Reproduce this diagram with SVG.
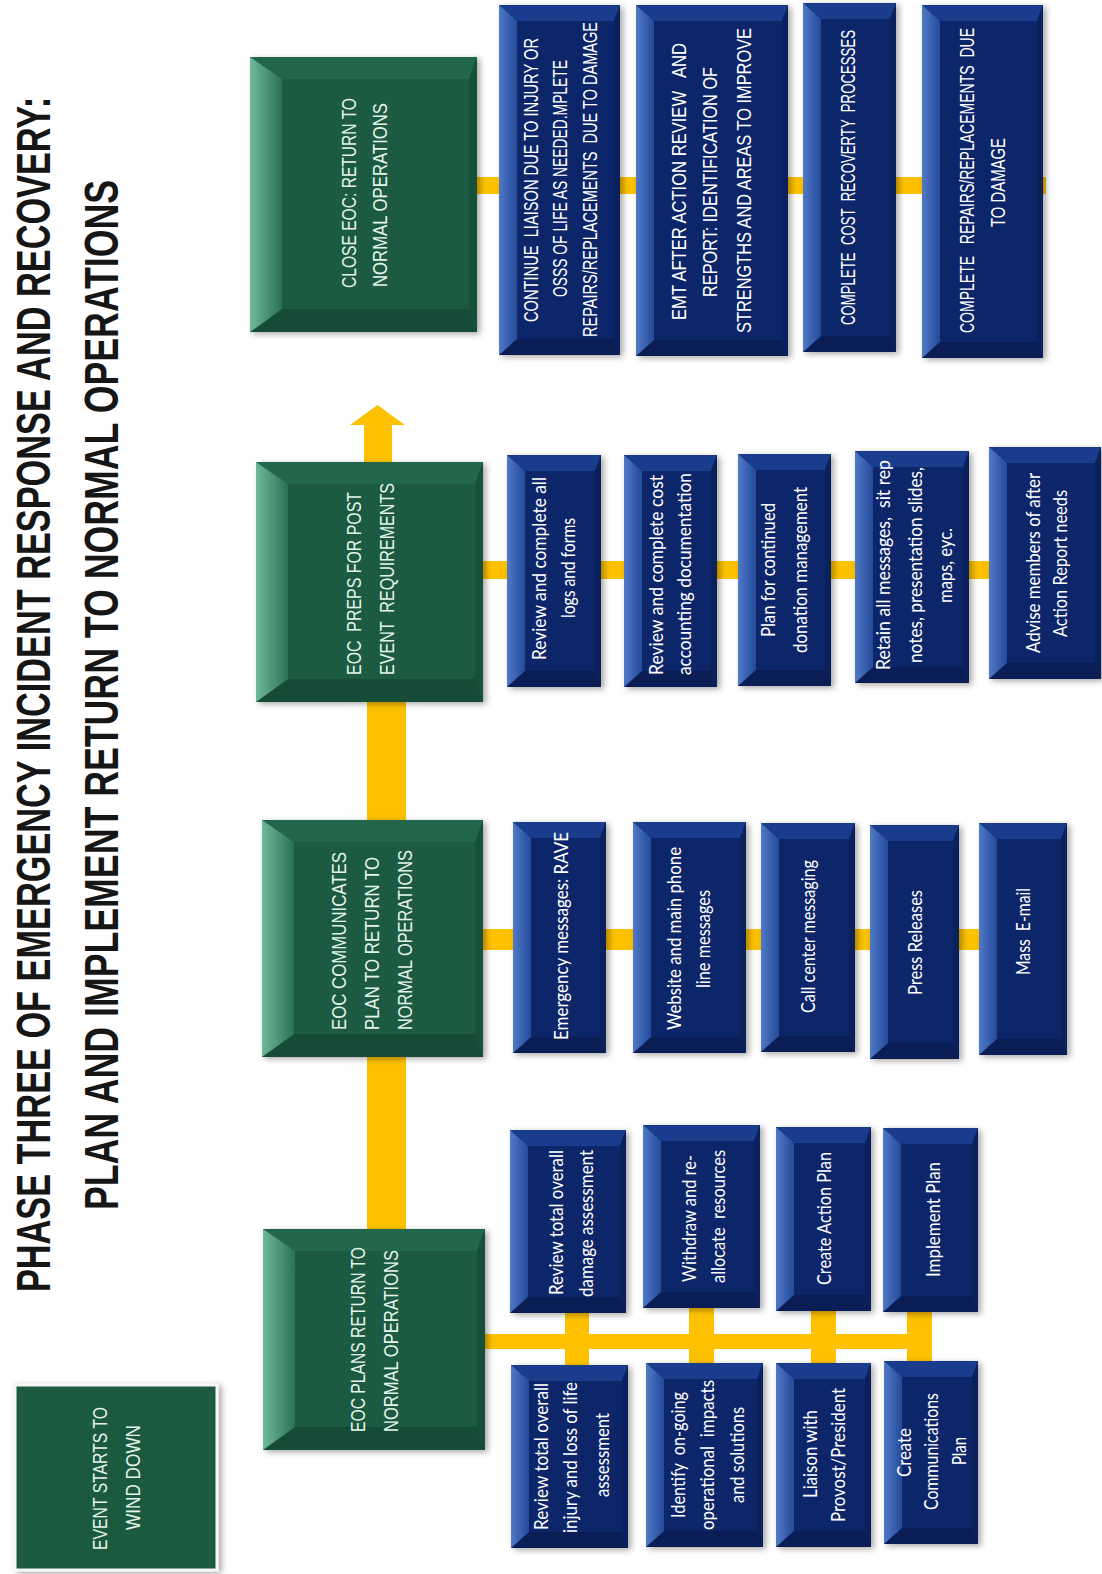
<svg xmlns="http://www.w3.org/2000/svg" width="1102" height="1574" viewBox="0 0 1102 1574">
<defs>
<linearGradient id="gLg" x1="0" y1="0" x2="1" y2="0"><stop offset="0" stop-color="#6fb898"/><stop offset="1" stop-color="#2a7255"/></linearGradient>
<linearGradient id="bLg" x1="0" y1="0" x2="1" y2="0"><stop offset="0" stop-color="#5079c6"/><stop offset="1" stop-color="#244a9a"/></linearGradient>
<filter id="sh" x="-10%" y="-10%" width="125%" height="125%"><feDropShadow dx="3" dy="2" stdDeviation="3" flood-color="#000" flood-opacity="0.35"/></filter>
<style>
.gB{fill:#1c5a42;filter:url(#sh)} .gL{fill:url(#gLg)} .gT{fill:#22674c} .gD{fill:#164c37} .gR{fill:#17503a}
.bB{fill:#0d276b;filter:url(#sh)} .bL{fill:url(#bLg)} .bT{fill:#1a3c8c} .bD{fill:#0a1d55} .bR{fill:#0b215c}
.y{fill:#fdc100}
text{text-anchor:middle;dominant-baseline:central;white-space:pre}
.t0{font-family:"Liberation Sans Narrow","Liberation Sans",Arial,sans-serif;font-weight:bold;font-size:49px;fill:#161616}
.t1{font-family:"Liberation Sans Narrow","Liberation Sans",Arial,sans-serif;font-size:21px;fill:#e2f4ea}
.t2{font-family:"Liberation Sans Narrow","Liberation Sans",Arial,sans-serif;font-size:21px;fill:#ffffff}
.t3{font-family:Lato,"Liberation Sans",Arial,sans-serif;font-size:19px;fill:#ffffff}
</style>
</defs>
<rect width="1102" height="1574" fill="#ffffff"/>

<g id="title">
<text class="t0" transform="translate(32.5,694.5) rotate(-90) scale(0.66,1)" textLength="1811" lengthAdjust="spacingAndGlyphs">PHASE THREE OF EMERGENCY INCIDENT RESPONSE AND RECOVERY:</text>
<text class="t0" transform="translate(100.5,695) rotate(-90) scale(0.66,1)" textLength="1561" lengthAdjust="spacingAndGlyphs">PLAN AND IMPLEMENT RETURN TO NORMAL OPERATIONS</text>
</g>

<g id="connectors">
<rect class="y" x="367" y="698" width="39" height="534"/>
<polygon class="y" points="364,464 364,425 350,425 377.5,405 405,425 392,425 392,464"/>
<rect class="y" x="475" y="177" width="571" height="17"/>
<rect class="y" x="480" y="561" width="512" height="18"/>
<rect class="y" x="480" y="929" width="502" height="21"/>
<rect class="y" x="482" y="1334" width="450" height="15"/>
<rect class="y" x="565" y="1300" width="24" height="75"/>
<rect class="y" x="689" y="1300" width="25" height="75"/>
<rect class="y" x="811" y="1300" width="25" height="75"/>
<rect class="y" x="907" y="1300" width="25" height="75"/>
</g>

<g id="n-event-starts">
<rect x="15" y="1385" width="202" height="185" fill="#1b5a41" stroke="#f6f6f6" stroke-width="3" filter="url(#sh)"/>
<text class="t1" transform="translate(100,1478.5) rotate(-90) scale(0.71,1)" textLength="201.4" lengthAdjust="spacingAndGlyphs">EVENT STARTS TO</text>
<text class="t1" transform="translate(133.5,1477.5) rotate(-90) scale(0.71,1)" textLength="147.9" lengthAdjust="spacingAndGlyphs">WIND DOWN</text>
</g>

<g id="n-eoc-plans">
<rect class="gB" x="263" y="1229" width="222" height="221"/>
<polygon class="gT" points="263,1229 485,1229 477,1251 295,1251"/>
<polygon class="gD" points="263,1450 295,1427 477,1427 485,1450"/>
<polygon class="gR" points="485,1229 485,1450 477,1427 477,1251"/>
<polygon class="gL" points="263,1229 295,1251 295,1427 263,1450"/>
<text class="t1" transform="translate(358.5,1339.5) rotate(-90) scale(0.71,1)" textLength="260.6" lengthAdjust="spacingAndGlyphs">EOC PLANS RETURN TO</text>
<text class="t1" transform="translate(391,1341) rotate(-90) scale(0.71,1)" textLength="256.3" lengthAdjust="spacingAndGlyphs">NORMAL OPERATIONS</text>
</g>

<g id="n-eoc-communicates">
<rect class="gB" x="262" y="820" width="221" height="237"/>
<polygon class="gT" points="262,820 483,820 475,842 294,842"/>
<polygon class="gD" points="262,1057 294,1034 475,1034 483,1057"/>
<polygon class="gR" points="483,820 483,1057 475,1034 475,842"/>
<polygon class="gL" points="262,820 294,842 294,1034 262,1057"/>
<text class="t1" transform="translate(339.5,941) rotate(-90) scale(0.71,1)" textLength="250.7" lengthAdjust="spacingAndGlyphs">EOC COMMUNICATES</text>
<text class="t1" transform="translate(372.5,943.5) rotate(-90) scale(0.71,1)" textLength="243.7" lengthAdjust="spacingAndGlyphs">PLAN TO RETURN TO</text>
<text class="t1" transform="translate(405,940) rotate(-90) scale(0.71,1)" textLength="253.5" lengthAdjust="spacingAndGlyphs">NORMAL OPERATIONS</text>
</g>

<g id="n-eoc-preps">
<rect class="gB" x="256" y="462" width="227" height="240"/>
<polygon class="gT" points="256,462 483,462 475,484 288,484"/>
<polygon class="gD" points="256,702 288,679 475,679 483,702"/>
<polygon class="gR" points="483,462 483,702 475,679 475,484"/>
<polygon class="gL" points="256,462 288,484 288,679 256,702"/>
<text class="t1" transform="translate(354.5,583.5) rotate(-90) scale(0.71,1)" textLength="257.7" lengthAdjust="spacingAndGlyphs">EOC  PREPS FOR POST</text>
<text class="t1" transform="translate(387,579) rotate(-90) scale(0.71,1)" textLength="270.4" lengthAdjust="spacingAndGlyphs">EVENT  REQUIREMENTS</text>
</g>

<g id="n-close-eoc">
<rect class="gB" x="250" y="57" width="227" height="275"/>
<polygon class="gT" points="250,57 477,57 469,79 282,79"/>
<polygon class="gD" points="250,332 282,309 469,309 477,332"/>
<polygon class="gR" points="477,57 477,332 469,309 469,79"/>
<polygon class="gL" points="250,57 282,79 282,309 250,332"/>
<text class="t1" transform="translate(349.5,193) rotate(-90) scale(0.71,1)" textLength="267.6" lengthAdjust="spacingAndGlyphs">CLOSE EOC: RETURN TO</text>
<text class="t1" transform="translate(380.5,195) rotate(-90) scale(0.71,1)" textLength="259.2" lengthAdjust="spacingAndGlyphs">NORMAL OPERATIONS</text>
</g>

<!-- Column 4 blue boxes -->
<g id="n-continue-liaison">
<rect class="bB" x="499" y="5" width="121" height="350"/>
<polygon class="bT" points="499,5 620,5 614,21 517,21"/>
<polygon class="bD" points="499,355 517,339 614,339 620,355"/>
<polygon class="bR" points="620,5 620,355 614,339 614,21"/>
<polygon class="bL" points="499,5 517,21 517,339 499,355"/>
<text class="t2" transform="translate(531,180) rotate(-90) scale(0.71,1)" textLength="400" lengthAdjust="spacingAndGlyphs">CONTINUE  LIAISON DUE TO INJURY OR</text>
<text class="t2" transform="translate(560,178.5) rotate(-90) scale(0.71,1)" textLength="333.8" lengthAdjust="spacingAndGlyphs">OSSS OF LIFE AS NEEDED.MPLETE</text>
<text class="t2" transform="translate(590,179.5) rotate(-90) scale(0.71,1)" textLength="443.7" lengthAdjust="spacingAndGlyphs">REPAIRS/REPLACEMENTS  DUE TO DAMAGE</text>
</g>
<g id="n-emt-review">
<rect class="bB" x="636" y="5" width="152" height="351"/>
<polygon class="bT" points="636,5 788,5 782,21 654,21"/>
<polygon class="bD" points="636,356 654,340 782,340 788,356"/>
<polygon class="bR" points="788,5 788,356 782,340 782,21"/>
<polygon class="bL" points="636,5 654,21 654,340 636,356"/>
<text class="t2" transform="translate(679,181.5) rotate(-90) scale(0.71,1)" textLength="390.1" lengthAdjust="spacingAndGlyphs">EMT AFTER ACTION REVIEW   AND</text>
<text class="t2" transform="translate(710,182) rotate(-90) scale(0.71,1)" textLength="323.9" lengthAdjust="spacingAndGlyphs">REPORT: IDENTIFICATION OF</text>
<text class="t2" transform="translate(744,180.5) rotate(-90) scale(0.71,1)" textLength="429.6" lengthAdjust="spacingAndGlyphs">STRENGTHS AND AREAS TO IMPROVE</text>
</g>
<g id="n-cost-recovery">
<rect class="bB" x="803" y="3" width="93" height="349"/>
<polygon class="bT" points="803,3 896,3 890,19 821,19"/>
<polygon class="bD" points="803,352 821,336 890,336 896,352"/>
<polygon class="bR" points="896,3 896,352 890,336 890,19"/>
<polygon class="bL" points="803,3 821,19 821,336 803,352"/>
<text class="t2" transform="translate(848,177.5) rotate(-90) scale(0.62,1)" textLength="475.8" lengthAdjust="spacingAndGlyphs">COMPLETE  COST  RECOVERTY  PROCESSES</text>
</g>
<g id="n-complete-repairs">
<rect class="bB" x="922" y="5" width="121" height="353"/>
<polygon class="bT" points="922,5 1043,5 1037,21 940,21"/>
<polygon class="bD" points="922,358 940,342 1037,342 1043,358"/>
<polygon class="bR" points="1043,5 1043,358 1037,342 1037,21"/>
<polygon class="bL" points="922,5 940,21 940,342 922,358"/>
<text class="t2" transform="translate(967,180.5) rotate(-90) scale(0.71,1)" textLength="429.6" lengthAdjust="spacingAndGlyphs">COMPLETE   REPAIRS/REPLACEMENTS  DUE</text>
<text class="t2" transform="translate(998,182.5) rotate(-90) scale(0.71,1)" textLength="125.4" lengthAdjust="spacingAndGlyphs">TO DAMAGE</text>
</g>

<!-- Column 3 blue boxes -->
<g id="n-review-logs">
<rect class="bB" x="507" y="455" width="94" height="232"/>
<polygon class="bT" points="507,455 601,455 595,471 525,471"/>
<polygon class="bD" points="507,687 525,671 595,671 601,687"/>
<polygon class="bR" points="601,455 601,687 595,671 595,471"/>
<polygon class="bL" points="507,455 525,471 525,671 507,687"/>
<text class="t3" transform="translate(538,568.5) rotate(-90)" textLength="183" lengthAdjust="spacingAndGlyphs">Review and complete all</text>
<text class="t3" transform="translate(567,568) rotate(-90)" textLength="100" lengthAdjust="spacingAndGlyphs">logs and forms</text>
</g>
<g id="n-review-cost">
<rect class="bB" x="624" y="455" width="93" height="232"/>
<polygon class="bT" points="624,455 717,455 711,471 642,471"/>
<polygon class="bD" points="624,687 642,671 711,671 717,687"/>
<polygon class="bR" points="717,455 717,687 711,671 711,471"/>
<polygon class="bL" points="624,455 642,471 642,671 624,687"/>
<text class="t3" transform="translate(655,575) rotate(-90)" textLength="200" lengthAdjust="spacingAndGlyphs">Review and complete cost</text>
<text class="t3" transform="translate(683,574) rotate(-90)" textLength="202" lengthAdjust="spacingAndGlyphs">accounting documentation</text>
</g>
<g id="n-donation">
<rect class="bB" x="738" y="454" width="93" height="232"/>
<polygon class="bT" points="738,454 831,454 825,470 756,470"/>
<polygon class="bD" points="738,686 756,670 825,670 831,686"/>
<polygon class="bR" points="831,454 831,686 825,670 825,470"/>
<polygon class="bL" points="738,454 756,470 756,670 738,686"/>
<text class="t3" transform="translate(767,570) rotate(-90)" textLength="134" lengthAdjust="spacingAndGlyphs">Plan for continued</text>
<text class="t3" transform="translate(799,570) rotate(-90)" textLength="166" lengthAdjust="spacingAndGlyphs">donation management</text>
</g>
<g id="n-retain-messages">
<rect class="bB" x="855" y="451" width="114" height="232"/>
<polygon class="bT" points="855,451 969,451 963,467 873,467"/>
<polygon class="bD" points="855,683 873,667 963,667 969,683"/>
<polygon class="bR" points="969,451 969,683 963,667 963,467"/>
<polygon class="bL" points="855,451 873,467 873,667 855,683"/>
<text class="t3" transform="translate(882,565) rotate(-90)" textLength="210" lengthAdjust="spacingAndGlyphs">Retain all messages,  sit rep</text>
<text class="t3" transform="translate(914,565) rotate(-90)" textLength="196" lengthAdjust="spacingAndGlyphs">notes, presentation slides,</text>
<text class="t3" transform="translate(944,565.5) rotate(-90)" textLength="75" lengthAdjust="spacingAndGlyphs">maps, eyc.</text>
</g>
<g id="n-advise-members">
<rect class="bB" x="989" y="447" width="112" height="232"/>
<polygon class="bT" points="989,447 1101,447 1095,463 1007,463"/>
<polygon class="bD" points="989,679 1007,663 1095,663 1101,679"/>
<polygon class="bR" points="1101,447 1101,679 1095,663 1095,463"/>
<polygon class="bL" points="989,447 1007,463 1007,663 989,679"/>
<text class="t3" transform="translate(1032,563) rotate(-90)" textLength="180" lengthAdjust="spacingAndGlyphs">Advise members of after</text>
<text class="t3" transform="translate(1059,563.5) rotate(-90)" textLength="147" lengthAdjust="spacingAndGlyphs">Action Report needs</text>
</g>

<!-- Column 2 blue boxes -->
<g id="n-emergency-messages">
<rect class="bB" x="513" y="822" width="93" height="231"/>
<polygon class="bT" points="513,822 606,822 600,838 531,838"/>
<polygon class="bD" points="513,1053 531,1037 600,1037 606,1053"/>
<polygon class="bR" points="606,822 606,1053 600,1037 600,838"/>
<polygon class="bL" points="513,822 531,838 531,1037 513,1053"/>
<text class="t3" transform="translate(560,936) rotate(-90)" textLength="208" lengthAdjust="spacingAndGlyphs">Emergency messages: RAVE</text>
</g>
<g id="n-website">
<rect class="bB" x="633" y="822" width="113" height="231"/>
<polygon class="bT" points="633,822 746,822 740,838 651,838"/>
<polygon class="bD" points="633,1053 651,1037 740,1037 746,1053"/>
<polygon class="bR" points="746,822 746,1053 740,1037 740,838"/>
<polygon class="bL" points="633,822 651,838 651,1037 633,1053"/>
<text class="t3" transform="translate(673,938.5) rotate(-90)" textLength="183" lengthAdjust="spacingAndGlyphs">Website and main phone</text>
<text class="t3" transform="translate(702,939) rotate(-90)" textLength="98" lengthAdjust="spacingAndGlyphs">line messages</text>
</g>
<g id="n-call-center">
<rect class="bB" x="761" y="823" width="94" height="229"/>
<polygon class="bT" points="761,823 855,823 849,839 779,839"/>
<polygon class="bD" points="761,1052 779,1036 849,1036 855,1052"/>
<polygon class="bR" points="855,823 855,1052 849,1036 849,839"/>
<polygon class="bL" points="761,823 779,839 779,1036 761,1052"/>
<text class="t3" transform="translate(807,936.5) rotate(-90)" textLength="153" lengthAdjust="spacingAndGlyphs">Call center messaging</text>
</g>
<g id="n-press-releases">
<rect class="bB" x="870" y="825" width="89" height="234"/>
<polygon class="bT" points="870,825 959,825 953,841 888,841"/>
<polygon class="bD" points="870,1059 888,1043 953,1043 959,1059"/>
<polygon class="bR" points="959,825 959,1059 953,1043 953,841"/>
<polygon class="bL" points="870,825 888,841 888,1043 870,1059"/>
<text class="t3" transform="translate(914,942.5) rotate(-90)" textLength="105" lengthAdjust="spacingAndGlyphs">Press Releases</text>
</g>
<g id="n-mass-email">
<rect class="bB" x="979" y="823" width="88" height="232"/>
<polygon class="bT" points="979,823 1067,823 1061,839 997,839"/>
<polygon class="bD" points="979,1055 997,1039 1061,1039 1067,1055"/>
<polygon class="bR" points="1067,823 1067,1055 1061,1039 1061,839"/>
<polygon class="bL" points="979,823 997,839 997,1039 979,1055"/>
<text class="t3" transform="translate(1022,931.5) rotate(-90)" textLength="87" lengthAdjust="spacingAndGlyphs">Mass  E-mail</text>
</g>

<!-- Column 1 blue boxes -->
<g id="n-review-damage">
<rect class="bB" x="510" y="1130" width="116" height="183"/>
<polygon class="bT" points="510,1130 626,1130 620,1146 528,1146"/>
<polygon class="bD" points="510,1313 528,1297 620,1297 626,1313"/>
<polygon class="bR" points="626,1130 626,1313 620,1297 620,1146"/>
<polygon class="bL" points="510,1130 528,1146 528,1297 510,1313"/>
<text class="t3" transform="translate(555,1222.5) rotate(-90)" textLength="145" lengthAdjust="spacingAndGlyphs">Review total overall</text>
<text class="t3" transform="translate(585,1223.5) rotate(-90)" textLength="147" lengthAdjust="spacingAndGlyphs">damage assessment</text>
</g>
<g id="n-withdraw">
<rect class="bB" x="643" y="1125" width="117" height="183"/>
<polygon class="bT" points="643,1125 760,1125 754,1141 661,1141"/>
<polygon class="bD" points="643,1308 661,1292 754,1292 760,1308"/>
<polygon class="bR" points="760,1125 760,1308 754,1292 754,1141"/>
<polygon class="bL" points="643,1125 661,1141 661,1292 643,1308"/>
<text class="t3" transform="translate(688,1218.5) rotate(-90)" textLength="127" lengthAdjust="spacingAndGlyphs">Withdraw and re-</text>
<text class="t3" transform="translate(717,1216.5) rotate(-90)" textLength="133" lengthAdjust="spacingAndGlyphs">allocate  resources</text>
</g>
<g id="n-create-action-plan">
<rect class="bB" x="776" y="1127" width="95" height="184"/>
<polygon class="bT" points="776,1127 871,1127 865,1143 794,1143"/>
<polygon class="bD" points="776,1311 794,1295 865,1295 871,1311"/>
<polygon class="bR" points="871,1127 871,1311 865,1295 865,1143"/>
<polygon class="bL" points="776,1127 794,1143 794,1295 776,1311"/>
<text class="t3" transform="translate(823,1218.5) rotate(-90)" textLength="133" lengthAdjust="spacingAndGlyphs">Create Action Plan</text>
</g>
<g id="n-implement-plan">
<rect class="bB" x="883" y="1128" width="95" height="184"/>
<polygon class="bT" points="883,1128 978,1128 972,1144 901,1144"/>
<polygon class="bD" points="883,1312 901,1296 972,1296 978,1312"/>
<polygon class="bR" points="978,1128 978,1312 972,1296 972,1144"/>
<polygon class="bL" points="883,1128 901,1144 901,1296 883,1312"/>
<text class="t3" transform="translate(932,1219.5) rotate(-90)" textLength="115" lengthAdjust="spacingAndGlyphs">Implement Plan</text>
</g>
<g id="n-review-injury">
<rect class="bB" x="511" y="1365" width="117" height="183"/>
<polygon class="bT" points="511,1365 628,1365 622,1381 529,1381"/>
<polygon class="bD" points="511,1548 529,1532 622,1532 628,1548"/>
<polygon class="bR" points="628,1365 628,1548 622,1532 622,1381"/>
<polygon class="bL" points="511,1365 529,1381 529,1532 511,1548"/>
<text class="t3" transform="translate(540,1456.5) rotate(-90)" textLength="147" lengthAdjust="spacingAndGlyphs">Review total overall</text>
<text class="t3" transform="translate(569,1457.5) rotate(-90)" textLength="151" lengthAdjust="spacingAndGlyphs">injury and loss of life</text>
<text class="t3" transform="translate(601,1455) rotate(-90)" textLength="84" lengthAdjust="spacingAndGlyphs">assessment</text>
</g>
<g id="n-identify-impacts">
<rect class="bB" x="646" y="1363" width="117" height="184"/>
<polygon class="bT" points="646,1363 763,1363 757,1379 664,1379"/>
<polygon class="bD" points="646,1547 664,1531 757,1531 763,1547"/>
<polygon class="bR" points="763,1363 763,1547 757,1531 757,1379"/>
<polygon class="bL" points="646,1363 664,1379 664,1531 646,1547"/>
<text class="t3" transform="translate(677,1455) rotate(-90)" textLength="126" lengthAdjust="spacingAndGlyphs">Identify  on-going</text>
<text class="t3" transform="translate(706,1455) rotate(-90)" textLength="150" lengthAdjust="spacingAndGlyphs">operational  impacts</text>
<text class="t3" transform="translate(736,1455) rotate(-90)" textLength="96" lengthAdjust="spacingAndGlyphs">and solutions</text>
</g>
<g id="n-liaison">
<rect class="bB" x="776" y="1363" width="95" height="184"/>
<polygon class="bT" points="776,1363 871,1363 865,1379 794,1379"/>
<polygon class="bD" points="776,1547 794,1531 865,1531 871,1547"/>
<polygon class="bR" points="871,1363 871,1547 865,1531 865,1379"/>
<polygon class="bL" points="776,1363 794,1379 794,1531 776,1547"/>
<text class="t3" transform="translate(809,1454) rotate(-90)" textLength="88" lengthAdjust="spacingAndGlyphs">Liaison with</text>
<text class="t3" transform="translate(837,1455) rotate(-90)" textLength="134" lengthAdjust="spacingAndGlyphs">Provost/President</text>
</g>
<g id="n-communications-plan">
<rect class="bB" x="884" y="1361" width="94" height="183"/>
<polygon class="bT" points="884,1361 978,1361 972,1377 902,1377"/>
<polygon class="bD" points="884,1544 902,1528 972,1528 978,1544"/>
<polygon class="bR" points="978,1361 978,1544 972,1528 972,1377"/>
<polygon class="bL" points="884,1361 902,1377 902,1528 884,1544"/>
<text class="t3" transform="translate(903,1452.5) rotate(-90)" textLength="49" lengthAdjust="spacingAndGlyphs">Create</text>
<text class="t3" transform="translate(930,1451.5) rotate(-90)" textLength="117" lengthAdjust="spacingAndGlyphs">Communications</text>
<text class="t3" transform="translate(958,1451) rotate(-90)" textLength="28" lengthAdjust="spacingAndGlyphs">Plan</text>
</g>
</svg>
